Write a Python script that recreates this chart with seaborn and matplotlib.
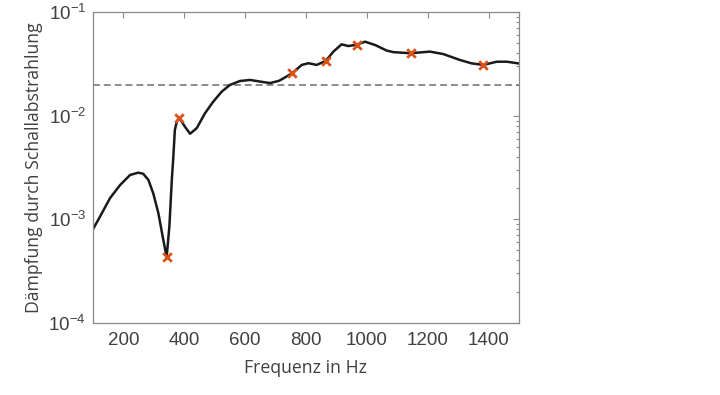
import matplotlib
matplotlib.use("Agg")
import matplotlib.pyplot as plt
import seaborn as sns
import pandas as pd
import numpy as np
from matplotlib.ticker import LogLocator, FixedLocator, NullLocator

# ---- data ----
freq = [100, 123, 156, 189, 222, 249, 265, 282, 298, 315, 329, 342, 351, 359, 364,
        369, 376, 384, 402, 419, 441, 468, 495, 523, 550, 583, 616, 649, 682, 712,
        755, 786, 808, 835, 865, 890, 917, 939, 967, 994, 1027, 1065, 1087, 1144,
        1207, 1251, 1306, 1344, 1383, 1427, 1460, 1500]
damping = [8.0e-4, 1.06e-3, 1.60e-3, 2.14e-3, 2.68e-3, 2.82e-3, 2.75e-3, 2.40e-3,
           1.78e-3, 1.14e-3, 6.8e-4, 4.3e-4, 8.5e-4, 2.4e-3, 4.0e-3, 7.3e-3, 8.9e-3,
           9.5e-3, 7.85e-3, 6.7e-3, 7.6e-3, 0.01057, 0.01368, 0.0171, 0.01986,
           0.02168, 0.0222, 0.0214, 0.0207, 0.0218, 0.0258, 0.031, 0.0322, 0.031,
           0.0339, 0.0417, 0.049, 0.0472, 0.0486, 0.052, 0.0483, 0.0427, 0.0412,
           0.0402, 0.0417, 0.0395, 0.0346, 0.0321, 0.031, 0.0333, 0.0333, 0.032]
marker_freq = [342, 384, 755, 865, 967, 1144, 1383]
marker_damp = [4.3e-4, 9.5e-3, 0.0258, 0.0339, 0.0486, 0.0402, 0.031]
threshold = 0.02
x_ticks = [200, 400, 600, 800, 1000, 1200, 1400]
xlabel = "Frequenz in Hz"
ylabel = "Dämpfung durch Schallabstrahlung"

sns.set_theme(style="white")
plt.rcParams['font.family'] = ['Open Sans', 'DejaVu Sans']
plt.rcParams['mathtext.fontset'] = 'custom'
plt.rcParams['mathtext.rm'] = 'Liberation Sans'
plt.rcParams['mathtext.it'] = 'Liberation Sans:italic'
plt.rcParams['mathtext.bf'] = 'Liberation Sans:bold'
plt.rcParams['mathtext.default'] = 'rm'

fig = plt.figure(figsize=(7.2, 3.95), dpi=100)
ax = fig.add_axes([93/720, 1-322.7/395, (519-93)/720, (322.7-12.3)/395])

curve = pd.DataFrame({"f": freq, "d": damping})
marks = pd.DataFrame({"f": marker_freq, "d": marker_damp})

ax.axhline(threshold, color="#6e6e6e", lw=1.1, linestyle=(0, (4.5, 2.6)), zorder=1)
sns.lineplot(data=curve, x="f", y="d", ax=ax, color="#1a1a1a", lw=1.8, zorder=2)
sns.scatterplot(data=marks, x="f", y="d", ax=ax, marker="x", s=38,
                color="#D95319", linewidth=2.0, zorder=3)

ax.set_yscale("log")
ax.set_xlim(100, 1500)
ax.set_ylim(1e-4, 1e-1)
ax.xaxis.set_major_locator(FixedLocator(x_ticks))
ax.xaxis.set_minor_locator(NullLocator())
ax.yaxis.set_major_locator(LogLocator(base=10, numticks=10))
ax.yaxis.set_minor_locator(LogLocator(base=10, subs=np.arange(2, 10), numticks=20))

for s in ax.spines.values():
    s.set_visible(True)
    s.set_color("#8a8a8a")
    s.set_linewidth(0.9)

ax.tick_params(which="both", direction="in", top=True, right=True,
               color="#8a8a8a", width=0.8)
ax.tick_params(which="major", length=4, labelsize=13.5, labelcolor="#404040", pad=5)
ax.tick_params(which="minor", length=2.3)
ax.tick_params(axis="x", which="major", pad=7)
for lab in ax.get_xticklabels() + ax.get_yticklabels():
    lab.set_family("Liberation Sans")

ax.set_xlabel(xlabel, fontsize=12.7, color="#404040", labelpad=7)
ax.set_ylabel(ylabel, fontsize=12.7, color="#404040", labelpad=4)
ax.grid(False)

fig.savefig("out.png", dpi=100)
